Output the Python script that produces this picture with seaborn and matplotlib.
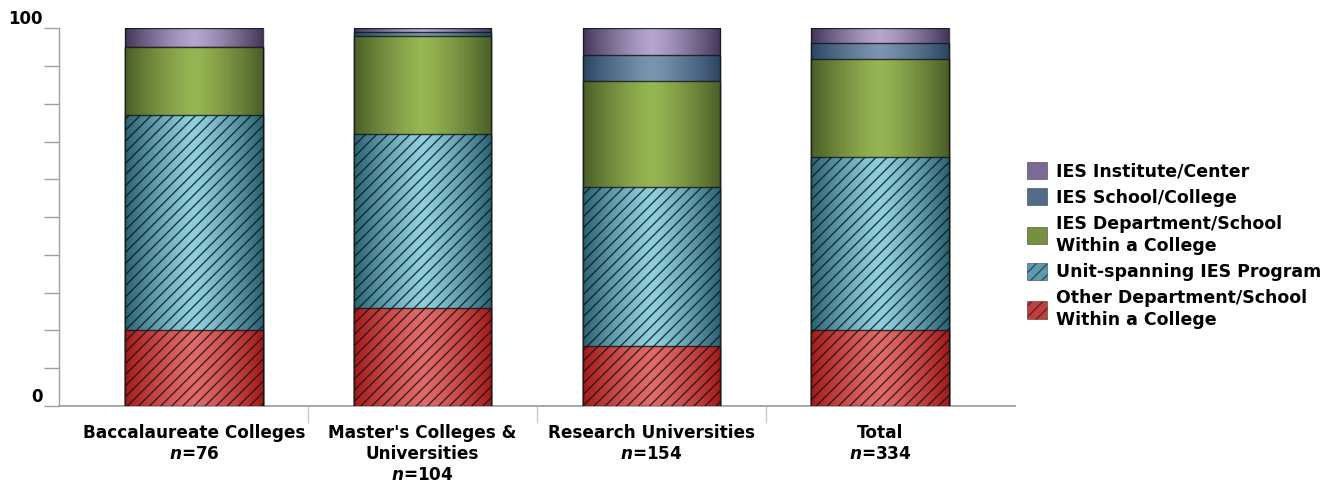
import numpy as np
import pandas as pd
import matplotlib
matplotlib.use("Agg")
import matplotlib.pyplot as plt
import seaborn as sns
from matplotlib.patches import Patch

# ---- data ----
categories = ["Baccalaureate Colleges\n$n$=76",
              "Master's Colleges &\nUniversities\n$n$=104",
              "Research Universities\n$n$=154",
              "Total\n$n$=334"]
series = ["Other Department/School\nWithin a College",
          "Unit-spanning IES Program",
          "IES Department/School\nWithin a College",
          "IES School/College",
          "IES Institute/Center"]
other_dept = [20, 26, 16, 20]
unit_spanning = [57, 46, 42, 46]
ies_dept = [18, 26, 28, 26]
ies_school = [0, 1, 7, 4]
ies_institute = [5, 1, 7, 4]

values = [other_dept, unit_spanning, ies_dept, ies_school, ies_institute]
# (edge/dark, center/light)
grad_colors = [("#a51a1a", "#e26a6a"),
               ("#2a6272", "#8fd0e0"),
               ("#4b5e28", "#97b653"),
               ("#2a4462", "#7b94b0"),
               ("#44355a", "#b6a6ce")]
mid_colors = ["#c43c3c", "#5a9cae", "#76903e", "#526b88", "#7c6a96"]
hatches = ["///", "///", "", "", ""]

sns.set_theme(style="white")
plt.rcParams["font.family"] = ["DejaVu Sans"]
plt.rcParams["text.color"] = "black"
plt.rcParams["xtick.labelcolor"] = "black"
plt.rcParams["ytick.labelcolor"] = "black"
plt.rcParams["mathtext.fontset"] = "custom"
plt.rcParams["mathtext.it"] = "DejaVu Sans:bold:italic"
plt.rcParams["mathtext.rm"] = "DejaVu Sans:bold"
plt.rcParams["hatch.linewidth"] = 1.0

fig = plt.figure(figsize=(13.36, 4.82), dpi=100)
ax = fig.add_axes([59/1336, 1-406/482, (1015-59)/1336, (406-28.3)/482])

cum = np.cumsum(np.array(values), axis=0)
df = pd.DataFrame({"cat": categories})

def gradient_rgb(c_dark, c_light, n=256):
    d = np.array(matplotlib.colors.to_rgb(c_dark))
    l = np.array(matplotlib.colors.to_rgb(c_light))
    x = np.linspace(0, 1, n)
    t = np.abs(x - 0.5) * 2
    t = t ** 1.3
    img = l[None, :] * (1 - t[:, None]) + d[None, :] * t[:, None]
    return img[None, :, :]

k = 0
for i in reversed(range(len(series))):
    df["v"] = cum[i]
    n_before = len(ax.patches)
    sns.barplot(data=df, x="cat", y="v", ax=ax, color=mid_colors[i],
                width=0.6, errorbar=None, saturation=1)
    new = ax.patches[n_before:]
    img = gradient_rgb(*grad_colors[i])
    for p in new:
        x0, y0 = p.get_x(), p.get_y()
        w, h = p.get_width(), p.get_height()
        p.set_facecolor("none")
        p.set_edgecolor((0.06, 0.08, 0.08, 0.8))
        p.set_linewidth(1.0)
        p.set_hatch(hatches[i])
        p.set_zorder(10 * k + 3)
        if h > 0:
            im = ax.imshow(img, extent=[x0, x0 + w, y0, y0 + h], aspect="auto",
                           zorder=10 * k + 2, interpolation="bilinear")
            im.set_clip_path(p)
    k += 1

ax.set_xlim(-0.59, 3.59)
ax.set_ylim(0, 100)
ax.set_xlabel("")
ax.set_ylabel("")

# y axis
ax.set_yticks(np.arange(0, 101, 10))
ax.set_yticklabels(["0"] + [""] * 9 + ["100"], fontsize=12, fontweight="bold")
for lab in ax.get_yticklabels():
    lab.set_verticalalignment("bottom")
ax.tick_params(axis="y", direction="out", length=11, width=1, color="#a0a0a0",
               pad=1, left=True)

# x axis
ax.set_xticks(range(len(categories)))
ax.set_xticklabels(categories, fontsize=12.2, fontweight="bold",
                   linespacing=1.2)
ax.set_xticks([0.5, 1.5, 2.5], minor=True)
ax.tick_params(axis="x", which="major", length=0, pad=13)
ax.tick_params(axis="x", which="minor", direction="out", length=12, width=1,
               color="#c8c8c8", bottom=True)

for s in ["top", "right"]:
    ax.spines[s].set_visible(False)
ax.spines["left"].set_color("#a0a0a0")
ax.spines["bottom"].set_color("#a0a0a0")
ax.spines["bottom"].set_linewidth(1.3)
ax.spines["left"].set_linewidth(1.0)

# legend
handles = []
for i in reversed(range(len(series))):
    handles.append(Patch(facecolor=mid_colors[i], edgecolor=(0.08, 0.1, 0.1, 0.6),
                         hatch=hatches[i], linewidth=0.5, label=series[i]))
fig.legend(handles=handles, loc="upper left", bbox_to_anchor=(1020/1336, 1-155/482),
           frameon=False, prop={"weight": "bold", "size": 12.5},
           handlelength=1.15, handleheight=1.15, handletextpad=0.55,
           labelspacing=0.45, borderaxespad=0)
for t in fig.legends[0].get_texts():
    t.set_linespacing(1.3)

fig.savefig("out.png", dpi=100)
